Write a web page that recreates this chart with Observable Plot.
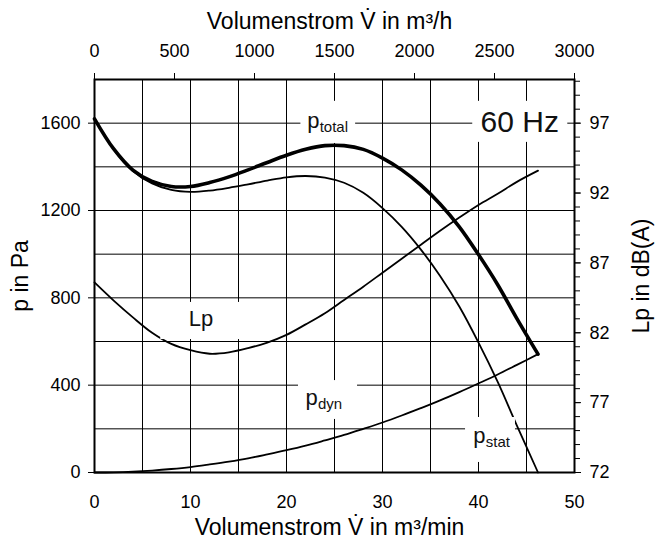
<!DOCTYPE html>
<html><head><meta charset="utf-8">
<script src="https://cdn.jsdelivr.net/npm/d3@7"></script>
<script src="https://cdn.jsdelivr.net/npm/@observablehq/plot@0.6"></script>
<style>html,body{margin:0;padding:0;background:#fff} svg{display:block}</style>
</head><body><div id="chart"></div>
<script>
// Volume flow in m³/min
const flowMin = [0, 2, 4, 6, 8, 10, 12, 14, 16, 18, 20, 22, 24, 26, 28, 30, 32, 34, 36, 38, 40, 42, 44, 46.2];
// Pressures in Pa
const pTotal = [1620, 1482, 1385, 1333, 1310, 1310, 1328, 1354, 1386, 1420, 1453, 1480, 1497, 1497, 1480, 1440, 1386, 1316, 1230, 1125, 998, 860, 705, 542];
const pStat  = [1620, 1481, 1381, 1324, 1294, 1285, 1291, 1304, 1320, 1337, 1352, 1358, 1351, 1327, 1281, 1211, 1125, 1021, 900, 760, 595, 415, 215, 0];
const pDyn   = [0, 1, 4, 9, 16, 25, 37, 50, 65, 83, 102, 123, 147, 172, 200, 229, 261, 295, 330, 368, 408, 449, 493, 542];
// Sound pressure level in dB(A)
const lpDb   = [85.6, 84.3, 83.1, 82.0, 81.2, 80.75, 80.5, 80.6, 80.9, 81.3, 81.85, 82.6, 83.4, 84.35, 85.3, 86.3, 87.3, 88.3, 89.3, 90.25, 91.15, 91.95, 92.8, 93.6];

// Tick labels
const xTicks = [0, 10, 20, 30, 40, 50];
const xTicksTop = [0, 500, 1000, 1500, 2000, 2500, 3000]; // m³/h
const yTicks = [0, 400, 800, 1200, 1600];
const dbTicks = [72, 77, 82, 87, 92, 97];
const dbMinor = d3.range(72, 101);
const xGrid = d3.range(5, 50, 5);
const yGrid = d3.range(200, 1800, 200);

const titleTop = "Volumenstrom V\u0307 in m³/h";
const titleBottom = "Volumenstrom V\u0307 in m³/min";
const titleLeft = "p in Pa";
const titleRight = "Lp in dB(A)";

// dB(A) mapped onto the Pa scale (72 dB at 0 Pa, 97 dB at 1600 Pa)
const dbToPa = db => (db - 72) * 64;
const paToDb = p => p / 64 + 72;

const rows = flowMin.map((v, i) => ({v, total: pTotal[i], stat: pStat[i], dyn: pDyn[i], lp: dbToPa(lpDb[i])}));

// annotation layout (data units)
const boxes = [
  {x1: 21.5, x2: 27.2, y1: 1507, y2: 1700},
  {x1: 39.4, x2: 49.3, y1: 1512, y2: 1700},
  {x1: 6.9, x2: 15.6, y1: 609, y2: 779},
  {x1: 21.25, x2: 27.4, y1: 243, y2: 421},
  {x1: 38.65, x2: 43.85, y1: 46, y2: 252}
];
const curveLabels = [
  {x: 22.15, y: 1580, text: "p", sub: "total"},
  {x: 21.98, y: 309, text: "p", sub: "dyn"},
  {x: 39.45, y: 133, text: "p", sub: "stat"},
  {x: 9.82, y: 669, text: "Lp", sub: ""}
];
const freqLabel = [{x: 44.3, y: 1603, text: "60 Hz"}];

const chart = Plot.plot({
  width: 667,
  height: 541,
  marginTop: 79,
  marginBottom: 69,
  marginLeft: 94,
  marginRight: 93,
  style: {fontFamily: '"Liberation Sans", Arial, sans-serif', background: "white", color: "black"},
  x: {domain: [0, 50]},
  y: {domain: [0, 1800]},
  marks: [
    Plot.gridX(xGrid, {stroke: "black", strokeOpacity: 1, strokeWidth: 1}),
    Plot.gridY(yGrid, {stroke: "black", strokeOpacity: 1, strokeWidth: 1}),
    Plot.line(rows, {x: "v", y: "dyn", stroke: "black", strokeWidth: 1.8, curve: "catmull-rom"}),
    Plot.line(rows, {x: "v", y: "lp", stroke: "black", strokeWidth: 1.8, curve: "catmull-rom"}),
    Plot.line(rows, {x: "v", y: "stat", stroke: "black", strokeWidth: 1.8, curve: "catmull-rom"}),
    Plot.line(rows, {x: "v", y: "total", stroke: "black", strokeWidth: 3.6, curve: "catmull-rom"}),
    Plot.rect(boxes, {x1: "x1", x2: "x2", y1: "y1", y2: "y2", fill: "white"}),
    Plot.text(curveLabels, {x: "x", y: "y", text: "text", textAnchor: "start", lineAnchor: "bottom", fontSize: 22, fill: "#111"}),
    Plot.text(curveLabels, {x: "x", y: "y", text: "sub", textAnchor: "start", lineAnchor: "bottom", fontSize: 15, dx: 12.5, dy: 4, fill: "#111"}),
    Plot.text(freqLabel, {x: "x", y: "y", text: "text", textAnchor: "middle", lineAnchor: "middle", fontSize: 30, fill: "#111"}),
    Plot.frame({stroke: "black", strokeWidth: 2}),
    Plot.axisX({anchor: "bottom", ticks: xTicks, tickFormat: d => String(d), tickSize: 0, tickPadding: 23, fontSize: 18, label: null}),
    Plot.axisX({anchor: "top", ticks: xTicksTop.map(h => h / 60), tickFormat: v => String(Math.round(v * 60)), tickSize: 7, tickPadding: 16, fontSize: 18, label: null}),
    Plot.axisY({anchor: "left", ticks: yTicks, tickFormat: d => String(d), tickSize: 6, tickPadding: 8, fontSize: 18, label: null}),
    Plot.axisY({anchor: "right", ticks: dbTicks.map(dbToPa), tickFormat: p => String(Math.round(paToDb(p))), tickSize: 6, tickPadding: 9, fontSize: 18, label: null}),
    Plot.axisY({anchor: "right", ticks: dbMinor.map(dbToPa), tickFormat: () => "", tickSize: 5, label: null}),
    Plot.text([titleTop], {frameAnchor: "top", textAnchor: "middle", lineAnchor: "bottom", dy: -51, dx: -5, fontSize: 23}),
    Plot.text([titleBottom], {frameAnchor: "bottom", textAnchor: "middle", lineAnchor: "bottom", dy: 62, dx: -5, fontSize: 23}),
    Plot.text([titleLeft], {frameAnchor: "left", textAnchor: "middle", lineAnchor: "middle", rotate: -90, dx: -74, fontSize: 23}),
    Plot.text([titleRight], {frameAnchor: "right", textAnchor: "middle", lineAnchor: "middle", rotate: -90, dx: 67, fontSize: 23})
  ]
});
document.getElementById("chart").appendChild(chart);
</script>
</body></html>
